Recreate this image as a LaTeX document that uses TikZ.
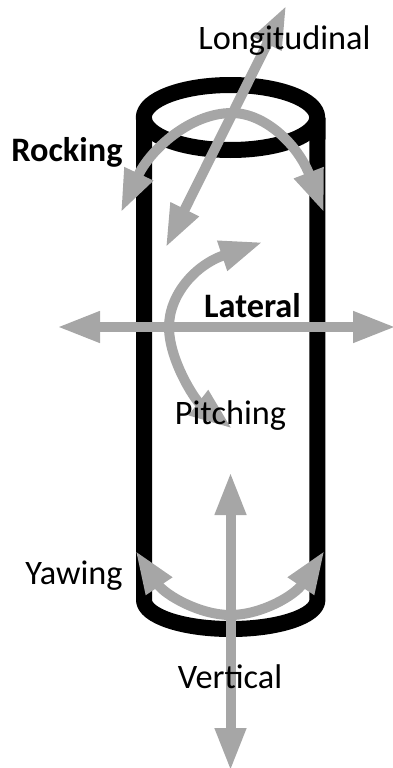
\documentclass[tikz,border=0pt]{standalone}
\usepackage{fontspec}
\setmainfont{Carlito}
\usetikzlibrary{arrows.meta}
\definecolor{motiongrey}{HTML}{A6A6A6}
\tikzset{
  wall/.style={draw=black,line width=16pt,line join=round},
  motion/.style={draw=motiongrey,line width=10pt,
    {Triangle[length=43pt,width=29pt,sep=-3pt]}-{Triangle[length=43pt,width=29pt,sep=-3pt]}},
  caption/.style={font=\fontsize{34.3}{38}\selectfont,text=black,inner sep=0pt,anchor=base},
  boldcaption/.style={caption,font=\fontsize{34.3}{38}\selectfont\bfseries},
}
\begin{document}
\begin{tikzpicture}[x=1pt,y=-1pt]
\useasboundingbox (0,0) rectangle (393,768);
% Cylinder
\draw[wall] (230.5,117.5) ellipse [x radius=86.7,y radius=32.5];
\draw[wall] (144,117.5) -- (144,600) arc [start angle=180,end angle=360,x radius=86.7,y radius=-29] -- (317.5,117.5);
% Motion axes
\coordinate (lonA) at (285,8);
\coordinate (lonB) at (167,245);
\coordinate (latA) at (60,327);
\coordinate (latB) at (393,327);
\coordinate (verA) at (230.5,475);
\coordinate (verB) at (230.5,768);
\coordinate (rocA) at (122,210);
\coordinate (rocM) at (232,113);
\coordinate (rocB) at (323,210);
\coordinate (pitA) at (260,243);
\coordinate (pitM) at (169,327);
\coordinate (pitB) at (230,427);
\coordinate (yawA) at (137,553);
\coordinate (yawM) at (230,615);
\coordinate (yawB) at (323,553);
\draw[motion] (lonA) -- (lonB);
\draw[motion] (latA) -- (latB);
\draw[motion] (verA) -- (verB);
\draw[motion] (rocA) .. controls (150,150) and (190,113) .. (rocM) .. controls (265,113) and (298,145) .. (rocB);
\draw[motion] (pitA) .. controls (195,265) and (169,295) .. (pitM) .. controls (169,360) and (195,400) .. (pitB);
\draw[motion] (yawA) .. controls (165,595) and (200,615) .. (yawM) .. controls (262,615) and (295,595) .. (yawB);
% Labels
\node[caption] (lon) at (284.5,50) {Longitudinal};
\node[boldcaption] (roc) at (67,161) {Rocking};
\node[boldcaption] (lat) at (252.5,317) {Lateral};
\node[caption] (pit) at (230.5,424) {Pitching};
\node[caption] (yaw) at (74,584) {Yawing};
\node[caption] (ver) at (230,688) {Vertical};
\end{tikzpicture}
\end{document}
